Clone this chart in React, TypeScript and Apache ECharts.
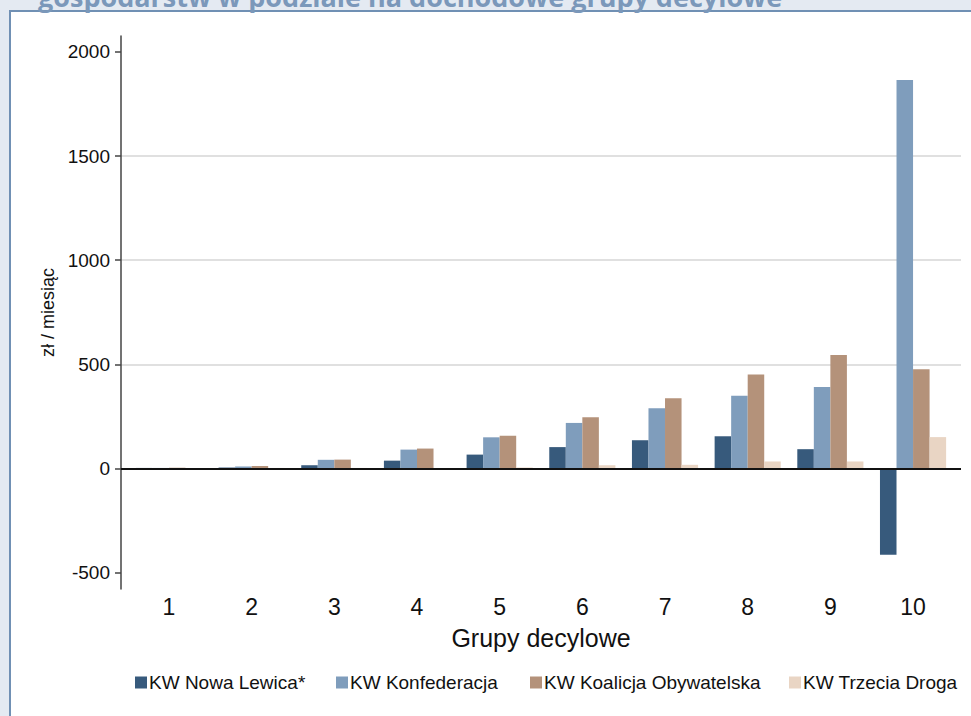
import React, { useEffect, useRef } from 'react';
import * as echarts from 'echarts';

const categories = ['1', '2', '3', '4', '5', '6', '7', '8', '9', '10'];
const seriesNames = ['KW Nowa Lewica*', 'KW Konfederacja', 'KW Koalicja Obywatelska', 'KW Trzecia Droga'];
const nowaLewica = [3, 5, 16, 38, 67, 103, 136, 155, 93, -414];
const konfederacja = [3, 10, 42, 91, 150, 219, 290, 349, 392, 1865];
const koalicja = [4, 12, 43, 96, 158, 246, 338, 451, 545, 477];
const trzeciaDroga = [0, 3, 3, 1, 5, 16, 18, 34, 34, 151];
const yTicks = [-500, 0, 500, 1000, 1500, 2000];
const titleText = 'gospodarstw w podziale na dochodowe grupy decylowe';
const yName = 'zł / miesiąc';
const xName = 'Grupy decylowe';

const colors = ['#375a7c', '#7f9dbc', '#b4927a', '#e9d5c4'];
const legendLeft = [130, 331, 525, 784];
const font = "'Liberation Sans', Arial, sans-serif";

export default function App() {
  const ref = useRef<HTMLDivElement>(null);

  useEffect(() => {
    document.body.style.margin = '0';
    if (!ref.current) return;
    const chart = echarts.init(ref.current, null, { renderer: 'svg' });
    const allValues = [nowaLewica, konfederacja, koalicja, trzeciaDroga];
    const barSeries = allValues.map((vals, si) => ({
      type: 'bar',
      name: seriesNames[si],
      data: vals.map((v, i) => [i + 1, v]),
      barGap: '0%',
      barCategoryGap: '20%',
      itemStyle: { color: colors[si] },
      z: 2,
    }));
    const option: any = {
      animation: false,
      backgroundColor: 'transparent',
      textStyle: { fontFamily: font },
      graphic: [
        {
          type: 'text',
          x: 38,
          y: -4,
          style: {
            text: titleText,
            font: "bold 27px 'Open Sans', sans-serif",
            fill: '#7b98ba',
            verticalAlign: 'middle',
            align: 'left',
          },
        },
      ],
      grid: { left: 121, right: 10, top: 36, bottom: 127, containLabel: false, outerBoundsMode: 'none' },
      legend: seriesNames.map((n, i) => ({
        data: [n],
        left: legendLeft[i],
        top: 668,
        itemWidth: 12,
        itemHeight: 12,
        icon: 'rect',
        selectedMode: false,
        textStyle: { fontSize: 19, color: '#111', fontFamily: font, padding: [0, 0, 0, -3] },
      })),
      xAxis: {
        type: 'value',
        min: 0.42,
        max: 10.58,
        axisLine: { show: false },
        axisTick: { show: false },
        splitLine: { show: false },
        axisLabel: {
          customValues: categories.map((_, i) => i + 1),
          formatter: (v: number) => categories[Math.round(v) - 1] ?? '',
          fontSize: 23,
          color: '#111',
          margin: 6,
          fontFamily: font,
        },
        name: xName,
        nameLocation: 'middle',
        nameGap: 36,
        nameTextStyle: { fontSize: 25, color: '#111', fontFamily: font },
      },
      yAxis: {
        type: 'value',
        min: -578,
        max: 2076,
        axisLine: { show: true, lineStyle: { color: '#444', width: 1.5 } },
        axisTick: { show: true, length: 6, customValues: yTicks, lineStyle: { color: '#444', width: 1.5 } },
        axisLabel: {
          customValues: yTicks,
          formatter: (v: number) => String(v),
          fontSize: 19,
          color: '#111',
          margin: 11,
          fontFamily: font,
        },
        splitLine: { show: true, showMinLine: false, showMaxLine: false, lineStyle: { color: '#e0e0e0', width: 2 } },
        name: yName,
        nameLocation: 'middle',
        nameGap: 37,
        nameTextStyle: { fontSize: 18, color: '#111', fontFamily: font },
      },
      series: [
        ...barSeries,
        {
          type: 'line',
          name: 'zero',
          data: [],
          z: 1,
          silent: true,
          markLine: {
            silent: true,
            symbol: 'none',
            label: { show: false },
            lineStyle: { color: '#111', width: 2, type: 'solid' },
            data: [{ yAxis: 0 }],
          },
        },
      ],
    };
    chart.setOption(option);
    return () => chart.dispose();
  }, []);

  return (
    <div style={{ position: 'relative', width: 971, height: 716, overflow: 'hidden', background: '#e4eaf2' }}>
      <div
        style={{
          position: 'absolute',
          left: 9,
          top: 10,
          width: 1000,
          height: 800,
          background: '#fff',
          borderLeft: '2px solid #7090b4',
          borderTop: '2px solid #7090b4',
        }}
      />
      <div ref={ref} style={{ position: 'absolute', left: 0, top: 0, width: 971, height: 716 }} />
    </div>
  );
}
